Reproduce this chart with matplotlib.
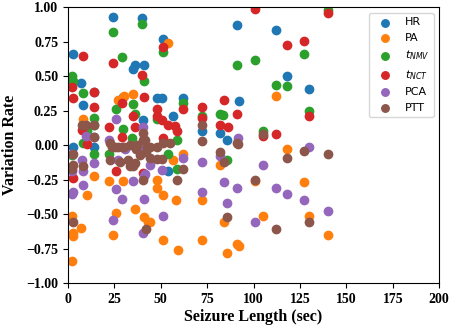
import matplotlib
matplotlib.use("Agg")
import matplotlib.pyplot as plt

hr_x = [2.7, 7.0, 8.1, 14.0, 2.7, 14.0, 24.3, 39.9, 35.0, 36.1, 41.0, 29.6, 40.4, 91.1, 112.1, 51.2, 118.0,
        48.0, 50.7, 62.0, 92.2, 56.6, 72.2, 81.9, 85.7, 129.9, 53.9]
hr_y = [0.66, 0.45, 0.29, 0.39, -0.01, -0.01, 0.93, 0.92, 0.55, 0.58, 0.58, 0.35, 0.18, 0.87, 0.84, 0.77, 0.50,
        0.34, 0.34, 0.34, 0.32, 0.21, 0.10, 0.09, 0.04, 0.41, -0.19]

pa_x = [2.2, 2.7, 2.7, 7.0, 2.2, 10.2, 14.0, 22.1, 29.6, 25.9, 24.3, 36.1, 41.0, 43.1, 8.1, 30.2, 27.0, 53.9,
        112.1, 118.0, 48.0, 48.0, 51.2, 58.2, 72.2, 44.2, 51.2, 59.3, 72.2, 84.1, 85.7, 91.1, 92.2, 100.8,
        105.1, 81.9, 127.2, 129.9, 140.1, 62.0, 56.6, 35.0]
pa_y = [-0.51, -0.64, -0.66, -0.60, -0.84, -0.36, -0.22, -0.26, -0.26, -0.49, -0.65, -0.46, -0.52, -0.56, 0.19,
        0.36, 0.33, 0.74, 0.36, -0.03, -0.25, -0.31, -0.36, -0.40, -0.40, -0.56, -0.69, -0.76, -0.69, -0.56,
        -0.78, -0.72, -0.73, -0.26, -0.51, -0.14, -0.27, -0.51, -0.65, -0.06, -0.11, 0.37]

nmv_x = [2.2, 2.7, 8.1, 14.0, 24.3, 29.1, 39.9, 41.0, 35.0, 36.1, 25.9, 8.1, 14.0, 22.1, 2.2, 34.5, 51.2, 91.1,
         100.8, 112.1, 118.0, 62.0, 48.0, 81.9, 83.5, 105.1, 58.8, 127.2, 129.9, 140.1, 58.8, 85.7, 14.0,
         29.6, 10.2, 72.2, 53.9]
nmv_y = [0.50, 0.47, 0.38, 0.20, 0.82, 0.64, 0.88, 0.47, 0.30, 0.23, 0.26, 0.02, -0.06, -0.06, -0.07, 0.05, 0.68,
         0.58, 0.62, 0.44, 0.43, 0.31, 0.19, 0.23, 0.22, 0.10, 0.04, 0.66, 0.25, 0.98, -0.17, -0.11, 0.15,
         0.12, 0.10, 0.21, -0.06]

nct_x = [8.1, 2.2, 2.7, 14.0, 14.0, 24.3, 39.9, 41.0, 29.1, 35.0, 36.1, 22.1, 29.1, 7.5, 10.2, 2.7, 25.9, 40.4,
         100.8, 118.0, 51.2, 48.0, 48.0, 50.7, 62.0, 72.2, 72.2, 84.1, 91.1, 81.9, 86.2, 112.1, 105.1, 53.9,
         57.7, 58.8, 51.2, 127.2, 140.1, 129.9]
nct_y = [0.65, 0.42, 0.34, 0.39, 0.28, 0.60, 0.51, 0.35, 0.31, 0.21, 0.13, 0.13, 0.06, 0.11, 0.01, -0.24, -0.19,
         -0.20, 0.99, 0.73, 0.71, 0.26, 0.21, 0.18, 0.26, 0.28, 0.20, 0.33, 0.23, 0.15, 0.13, 0.08, 0.07, 0.15,
         0.14, 0.10, 0.05, 0.76, 0.96, 0.21]

pca_x = [2.2, 2.7, 8.1, 8.1, 14.0, 24.3, 25.9, 29.1, 35.0, 41.0, 41.0, 40.4, 2.2, 7.5, 51.2, 72.2, 84.1, 85.7,
         91.1, 100.8, 105.1, 112.1, 118.0, 50.7, 72.2, 127.2, 140.1, 129.9, 25.9, 40.4, 9.7, 14.0, 22.1, 2.2,
         91.6, 81.9, 62.0, 41.5, 30.7, 38.8, 44.2, 27.0]
pca_y = [-0.35, -0.34, -0.29, -0.19, -0.13, -0.54, -0.32, -0.39, -0.26, -0.39, -0.22, -0.64, -0.19, -0.11, -0.51,
         -0.34, -0.27, -0.42, -0.31, -0.56, -0.14, -0.31, -0.35, -0.18, -0.12, -0.40, -0.48, -0.01, 0.19, 0.13,
         0.07, 0.06, 0.04, -0.06, 0.05, -0.08, -0.09, -0.21, -0.03, -0.03, -0.14, -0.11]

ptt_x = [7.5, 9.7, 14.0, 2.7, 14.0, 22.6, 25.3, 29.1, 40.4, 40.4, 37.2, 42.6, 2.2, 2.7, 8.1, 2.7, 33.4, 35.0,
         40.4, 42.0, 91.1, 105.1, 72.2, 72.2, 81.9, 118.0, 48.0, 51.2, 55.0, 127.2, 140.1, 58.8, 62.0, 84.1,
         85.7, 100.8, 112.1, 129.9, 91.6, 48.0, 50.7, 44.2, 23.7, 27.0, 30.2, 33.4, 36.7, 38.8, 42.0, 44.2,
         32.3, 28.0, 36.1, 22.6, 41.5]
ptt_y = [0.15, 0.15, 0.15, -0.06, 0.06, 0.02, -0.01, -0.01, 0.09, 0.04, 0.00, -0.01, -0.17, -0.14, -0.15, -0.56,
         -0.15, -0.15, -0.25, -0.61, 0.02, 0.08, 0.15, 0.03, -0.05, -0.09, -0.01, 0.02, 0.02, -0.04, -0.06,
         -0.25, -0.17, -0.12, -0.52, -0.25, -0.61, -0.56, 0.01, -0.10, -0.10, -0.01, -0.01, -0.01, -0.01, 0.00,
         -0.03, -0.07, -0.05, -0.09, -0.11, -0.12, -0.13, -0.11, 0.04]

series = [
    ("HR", hr_x, hr_y),
    ("PA", pa_x, pa_y),
    ("$t_{NMV}$", nmv_x, nmv_y),
    ("$t_{NCT}$", nct_x, nct_y),
    ("PCA", pca_x, pca_y),
    ("PTT", ptt_x, ptt_y),
]

fig = plt.figure(figsize=(4.5, 3.25), dpi=100)
ax = fig.add_axes([0.151, 0.129, 0.825, 0.848])
for label, xs, ys in series:
    ax.scatter(xs, ys, s=36, label=label)

ax.set_xlim(0, 200)
ax.set_ylim(-1, 1)
ax.set_xticks([0, 25, 50, 75, 100, 125, 150, 175, 200])
ax.set_yticks([-1.0, -0.75, -0.5, -0.25, 0.0, 0.25, 0.5, 0.75, 1.0])
ax.set_yticklabels(["−1.00", "−0.75", "−0.50", "−0.25", "0.00", "0.25", "0.50", "0.75", "1.00"])
for lab in ax.get_xticklabels() + ax.get_yticklabels():
    lab.set_fontfamily("Liberation Serif")
    lab.set_fontweight("bold")
    lab.set_fontsize(10)
ax.set_xlabel("Seizure Length (sec)", fontfamily="Liberation Serif", fontweight="bold",
              fontsize=11.5, labelpad=2)
ax.set_ylabel("Variation Rate", fontfamily="Liberation Serif", fontweight="bold",
              fontsize=11.5, labelpad=6)
ax.legend(loc="upper right", fontsize=8, markerscale=0.9)

fig.savefig("out.png", dpi=100)
